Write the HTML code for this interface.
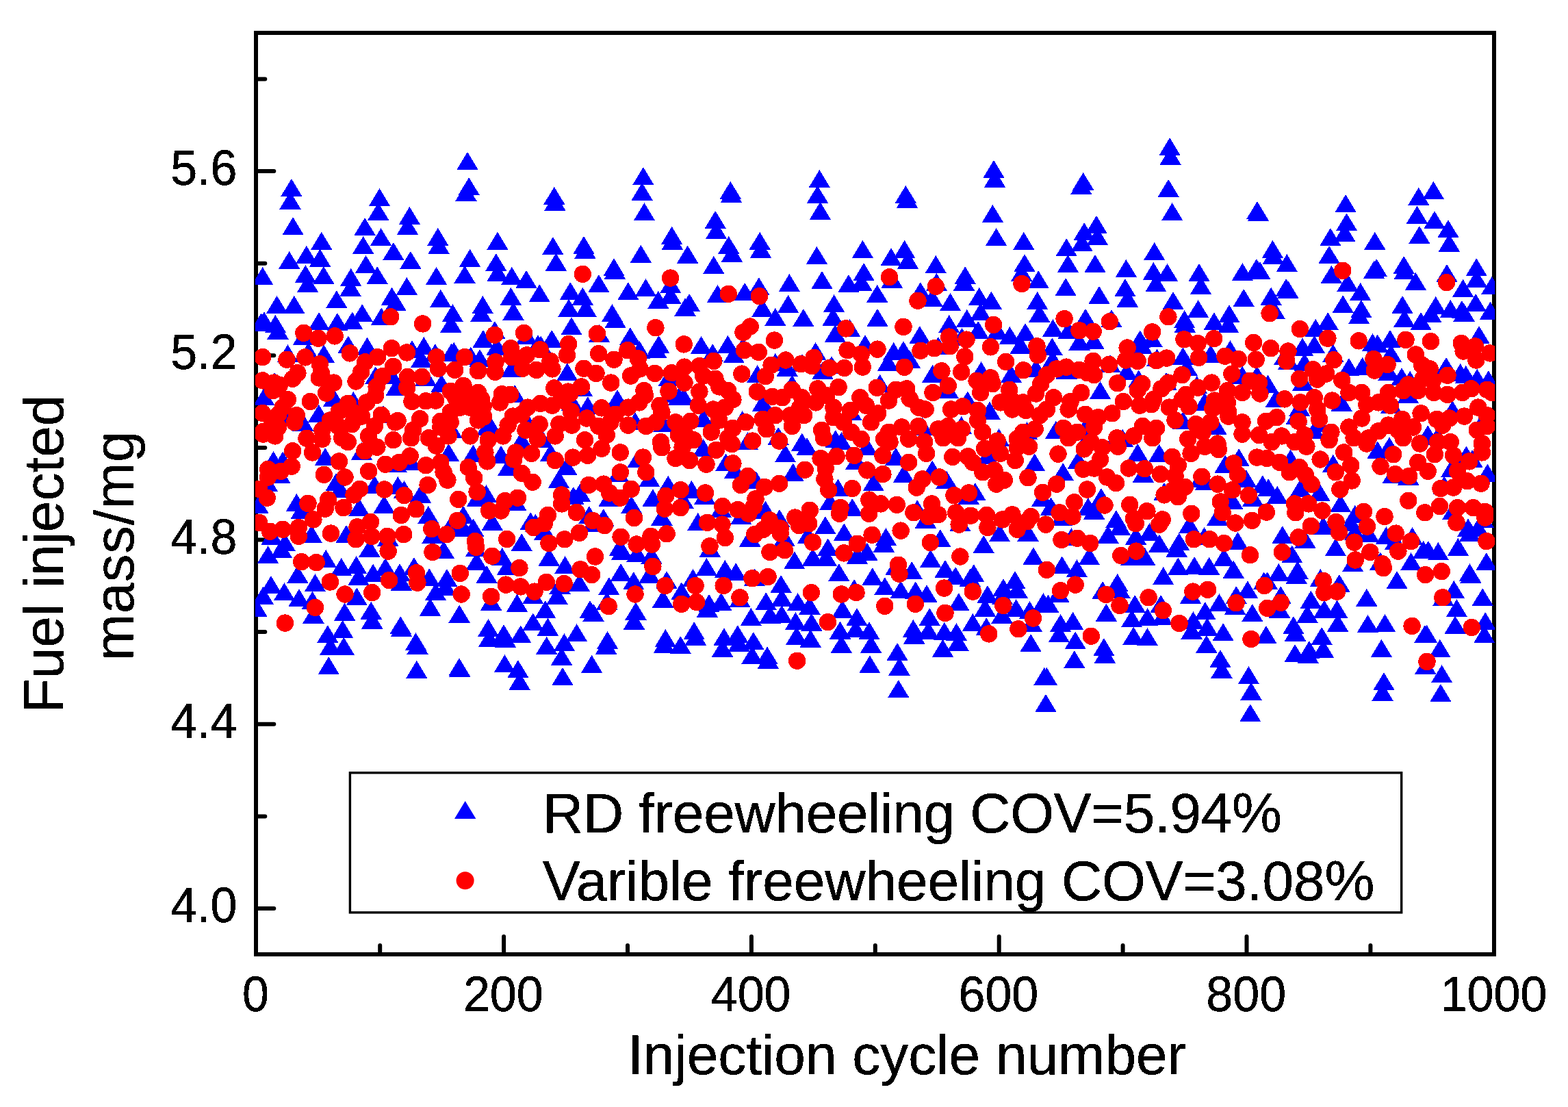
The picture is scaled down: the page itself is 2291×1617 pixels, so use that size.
<!DOCTYPE html>
<html lang="en"><head><meta charset="utf-8"><title>Fuel injected mass vs injection cycle number</title>
<style>html,body{margin:0;padding:0;background:#fff}body{width:2291px;height:1617px;overflow:hidden}svg{display:block}text{font-family:"Liberation Sans",Arial,Helvetica,sans-serif;fill:#000;stroke:#000;stroke-width:0.4px}</style></head><body>
<svg width="2291" height="1617" viewBox="0 0 2291 1617">
<defs><filter id="t" filterUnits="userSpaceOnUse" x="0" y="0" width="2291" height="1617" color-interpolation-filters="sRGB"><feComponentTransfer><feFuncA type="discrete" tableValues="0 1"/></feComponentTransfer></filter></defs>
<rect width="2291" height="1617" fill="#fff"/>
<rect x="374" y="48" width="1809" height="1346" fill="none" stroke="#000" stroke-width="6" shape-rendering="crispEdges"/>
<path d="M555.2 1390.9v-10.0M736.1 1390.9v-23.0M917.0 1390.9v-10.0M1097.9 1390.9v-23.0M1278.8 1390.9v-10.0M1459.7 1390.9v-23.0M1640.6 1390.9v-10.0M1821.5 1390.9v-23.0M2002.4 1390.9v-10.0M377.3 1327.0h23.0M377.3 1192.4h10.0M377.3 1057.8h23.0M377.3 923.1h10.0M377.3 788.5h23.0M377.3 653.9h10.0M377.3 519.3h23.0M377.3 384.7h10.0M377.3 250.0h23.0M377.3 115.4h10.0" fill="none" stroke="#000" stroke-width="6" stroke-linecap="round"/>
<clipPath id="c"><rect x="373.0" y="48.2" width="1811.2" height="1345.7"/></clipPath>
<g clip-path="url(#c)" shape-rendering="crispEdges">
<path fill="#0000ff" d="M425.9 261.0l15.7 26.0h-31.4zM424.0 279.7l15.7 26.0h-31.4zM428.1 317.1l15.7 26.0h-31.4zM469.7 338.8l15.7 26.0h-31.4zM447.8 359.0l15.7 26.0h-31.4zM467.6 363.6l15.7 26.0h-31.4zM422.7 366.9l15.7 26.0h-31.4zM383.7 390.0l15.7 26.0h-31.4zM446.4 387.1l15.7 26.0h-31.4zM472.8 388.8l15.7 26.0h-31.4zM449.6 401.1l15.7 26.0h-31.4zM554.5 275.0l15.7 26.0h-31.4zM552.7 295.9l15.7 26.0h-31.4zM533.1 317.9l15.7 26.0h-31.4zM556.6 333.1l15.7 26.0h-31.4zM530.7 344.9l15.7 26.0h-31.4zM574.9 354.0l15.7 26.0h-31.4zM534.6 373.0l15.7 26.0h-31.4zM551.2 389.1l15.7 26.0h-31.4zM512.7 392.0l15.7 26.0h-31.4zM512.0 406.8l15.7 26.0h-31.4zM598.4 301.9l15.7 26.0h-31.4zM595.5 316.9l15.7 26.0h-31.4zM599.9 366.9l15.7 26.0h-31.4zM594.4 405.0l15.7 26.0h-31.4zM639.8 332.9l15.7 26.0h-31.4zM641.1 344.9l15.7 26.0h-31.4zM637.6 390.0l15.7 26.0h-31.4zM683.0 221.9l15.7 26.0h-31.4zM685.2 259.1l15.7 26.0h-31.4zM681.0 267.8l15.7 26.0h-31.4zM686.6 363.9l15.7 26.0h-31.4zM679.0 387.8l15.7 26.0h-31.4zM491.8 424.1l15.7 26.0h-31.4zM572.5 419.8l15.7 26.0h-31.4zM643.8 423.0l15.7 26.0h-31.4zM809.8 272.8l15.7 26.0h-31.4zM810.9 281.9l15.7 26.0h-31.4zM939.9 244.0l15.7 26.0h-31.4zM938.1 266.8l15.7 26.0h-31.4zM941.4 296.2l15.7 26.0h-31.4zM981.6 330.9l15.7 26.0h-31.4zM982.4 338.7l15.7 26.0h-31.4zM726.9 338.8l15.7 26.0h-31.4zM807.9 346.0l15.7 26.0h-31.4zM853.0 345.0l15.7 26.0h-31.4zM854.9 351.8l15.7 26.0h-31.4zM724.8 370.1l15.7 26.0h-31.4zM727.1 384.9l15.7 26.0h-31.4zM812.4 369.7l15.7 26.0h-31.4zM936.3 357.8l15.7 26.0h-31.4zM897.0 377.2l15.7 26.0h-31.4zM898.3 381.8l15.7 26.0h-31.4zM747.8 390.0l15.7 26.0h-31.4zM769.0 395.0l15.7 26.0h-31.4zM874.9 401.1l15.7 26.0h-31.4zM943.5 407.1l15.7 26.0h-31.4zM788.2 415.2l15.7 26.0h-31.4zM833.3 412.2l15.7 26.0h-31.4zM917.9 412.2l15.7 26.0h-31.4zM851.3 419.8l15.7 26.0h-31.4zM746.4 419.8l15.7 26.0h-31.4zM979.8 402.2l15.7 26.0h-31.4zM961.8 424.9l15.7 26.0h-31.4zM1067.3 264.9l15.7 26.0h-31.4zM1068.4 269.9l15.7 26.0h-31.4zM1197.3 248.0l15.7 26.0h-31.4zM1194.5 270.9l15.7 26.0h-31.4zM1198.4 294.9l15.7 26.0h-31.4zM1045.2 308.0l15.7 26.0h-31.4zM1046.5 323.0l15.7 26.0h-31.4zM1004.6 358.6l15.7 26.0h-31.4zM1064.7 344.9l15.7 26.0h-31.4zM1069.4 356.7l15.7 26.0h-31.4zM1110.2 338.8l15.7 26.0h-31.4zM1111.5 350.9l15.7 26.0h-31.4zM1042.8 374.0l15.7 26.0h-31.4zM1193.4 360.0l15.7 26.0h-31.4zM1260.4 350.9l15.7 26.0h-31.4zM1262.1 384.1l15.7 26.0h-31.4zM1258.9 398.9l15.7 26.0h-31.4zM1239.9 401.1l15.7 26.0h-31.4zM1201.0 396.0l15.7 26.0h-31.4zM1153.3 400.1l15.7 26.0h-31.4zM1108.8 405.1l15.7 26.0h-31.4zM1088.2 413.0l15.7 26.0h-31.4zM1048.5 415.9l15.7 26.0h-31.4zM1281.7 415.9l15.7 26.0h-31.4zM1452.0 233.9l15.7 26.0h-31.4zM1453.5 247.9l15.7 26.0h-31.4zM1582.7 251.9l15.7 26.0h-31.4zM1579.8 258.0l15.7 26.0h-31.4zM1323.3 270.9l15.7 26.0h-31.4zM1325.5 277.9l15.7 26.0h-31.4zM1450.4 299.0l15.7 26.0h-31.4zM1455.6 333.1l15.7 26.0h-31.4zM1495.8 339.0l15.7 26.0h-31.4zM1584.2 325.1l15.7 26.0h-31.4zM1580.9 340.8l15.7 26.0h-31.4zM1558.2 348.2l15.7 26.0h-31.4zM1560.4 372.0l15.7 26.0h-31.4zM1321.6 350.9l15.7 26.0h-31.4zM1302.0 362.2l15.7 26.0h-31.4zM1326.5 366.8l15.7 26.0h-31.4zM1367.3 373.0l15.7 26.0h-31.4zM1497.0 371.1l15.7 26.0h-31.4zM1492.7 384.8l15.7 26.0h-31.4zM1517.2 395.3l15.7 26.0h-31.4zM1410.2 389.1l15.7 26.0h-31.4zM1408.5 398.6l15.7 26.0h-31.4zM1557.1 406.1l15.7 26.0h-31.4zM1368.4 398.9l15.7 26.0h-31.4zM1344.9 412.2l15.7 26.0h-31.4zM1303.3 394.6l15.7 26.0h-31.4zM1709.1 201.1l15.7 26.0h-31.4zM1710.1 214.9l15.7 26.0h-31.4zM1707.2 262.0l15.7 26.0h-31.4zM1712.7 296.2l15.7 26.0h-31.4zM1836.9 294.0l15.7 26.0h-31.4zM1838.5 296.9l15.7 26.0h-31.4zM1602.0 314.9l15.7 26.0h-31.4zM1603.4 331.9l15.7 26.0h-31.4zM1686.7 354.0l15.7 26.0h-31.4zM1859.4 350.9l15.7 26.0h-31.4zM1860.4 359.7l15.7 26.0h-31.4zM1880.3 371.1l15.7 26.0h-31.4zM1600.0 372.0l15.7 26.0h-31.4zM1645.4 379.0l15.7 26.0h-31.4zM1685.3 383.1l15.7 26.0h-31.4zM1705.5 384.9l15.7 26.0h-31.4zM1752.0 384.9l15.7 26.0h-31.4zM1835.9 378.0l15.7 26.0h-31.4zM1840.9 382.1l15.7 26.0h-31.4zM1815.4 384.1l15.7 26.0h-31.4zM1643.9 407.1l15.7 26.0h-31.4zM1688.9 400.4l15.7 26.0h-31.4zM1754.5 404.0l15.7 26.0h-31.4zM1879.1 407.1l15.7 26.0h-31.4zM1882.0 410.0l15.7 26.0h-31.4zM1606.0 417.9l15.7 26.0h-31.4zM1817.2 422.0l15.7 26.0h-31.4zM1857.1 419.8l15.7 26.0h-31.4zM2094.4 264.9l15.7 26.0h-31.4zM2072.8 274.0l15.7 26.0h-31.4zM1966.1 284.1l15.7 26.0h-31.4zM2070.5 300.6l15.7 26.0h-31.4zM2096.0 308.1l15.7 26.0h-31.4zM1967.6 311.4l15.7 26.0h-31.4zM2116.0 321.1l15.7 26.0h-31.4zM1964.8 326.9l15.7 26.0h-31.4zM1943.9 333.1l15.7 26.0h-31.4zM2073.9 330.0l15.7 26.0h-31.4zM2008.8 338.8l15.7 26.0h-31.4zM2117.4 341.7l15.7 26.0h-31.4zM1942.1 358.9l15.7 26.0h-31.4zM2051.2 374.0l15.7 26.0h-31.4zM2052.3 381.9l15.7 26.0h-31.4zM2011.2 378.0l15.7 26.0h-31.4zM2007.6 380.9l15.7 26.0h-31.4zM2157.2 377.2l15.7 26.0h-31.4zM2114.0 385.9l15.7 26.0h-31.4zM1945.4 387.8l15.7 26.0h-31.4zM2068.4 397.9l15.7 26.0h-31.4zM2157.5 393.9l15.7 26.0h-31.4zM2137.6 407.9l15.7 26.0h-31.4zM2179.8 404.0l15.7 26.0h-31.4zM1969.0 399.6l15.7 26.0h-31.4zM1987.7 413.0l15.7 26.0h-31.4zM404.6 432.0l15.7 26.0h-31.4zM429.8 432.0l15.7 26.0h-31.4zM661.4 444.3l15.7 26.0h-31.4zM529.2 444.1l15.7 26.0h-31.4zM557.3 449.3l15.7 26.0h-31.4zM578.0 428.0l15.7 26.0h-31.4zM385.9 455.4l15.7 26.0h-31.4zM381.5 457.5l15.7 26.0h-31.4zM402.4 460.0l15.7 26.0h-31.4zM406.0 469.5l15.7 26.0h-31.4zM466.1 456.1l15.7 26.0h-31.4zM492.9 457.1l15.7 26.0h-31.4zM514.8 455.4l15.7 26.0h-31.4zM658.9 459.7l15.7 26.0h-31.4zM443.6 477.7l15.7 26.0h-31.4zM508.8 490.4l15.7 26.0h-31.4zM536.5 492.8l15.7 26.0h-31.4zM602.0 497.1l15.7 26.0h-31.4zM619.3 492.1l15.7 26.0h-31.4zM635.9 502.2l15.7 26.0h-31.4zM663.3 500.0l15.7 26.0h-31.4zM687.8 506.5l15.7 26.0h-31.4zM420.4 503.2l15.7 26.0h-31.4zM450.7 500.0l15.7 26.0h-31.4zM473.2 503.6l15.7 26.0h-31.4zM615.7 510.8l15.7 26.0h-31.4zM659.7 501.5l15.7 26.0h-31.4zM401.0 544.0l15.7 26.0h-31.4zM548.7 535.3l15.7 26.0h-31.4zM571.8 534.6l15.7 26.0h-31.4zM579.3 551.9l15.7 26.0h-31.4zM645.1 546.9l15.7 26.0h-31.4zM622.2 537.5l15.7 26.0h-31.4zM385.9 566.3l15.7 26.0h-31.4zM487.7 567.8l15.7 26.0h-31.4zM516.3 572.1l15.7 26.0h-31.4zM560.2 592.0l15.7 26.0h-31.4zM465.8 590.8l15.7 26.0h-31.4zM442.6 603.8l15.7 26.0h-31.4zM419.0 596.6l15.7 26.0h-31.4zM659.7 613.9l15.7 26.0h-31.4zM705.3 432.0l15.7 26.0h-31.4zM703.0 443.8l15.7 26.0h-31.4zM750.0 441.7l15.7 26.0h-31.4zM831.1 436.6l15.7 26.0h-31.4zM856.0 436.6l15.7 26.0h-31.4zM979.8 417.9l15.7 26.0h-31.4zM894.4 444.3l15.7 26.0h-31.4zM899.1 453.2l15.7 26.0h-31.4zM835.0 463.3l15.7 26.0h-31.4zM722.9 469.0l15.7 26.0h-31.4zM706.0 482.0l15.7 26.0h-31.4zM806.2 482.0l15.7 26.0h-31.4zM920.8 478.1l15.7 26.0h-31.4zM962.5 489.9l15.7 26.0h-31.4zM958.9 497.1l15.7 26.0h-31.4zM875.6 474.1l15.7 26.0h-31.4zM769.4 477.0l15.7 26.0h-31.4zM786.0 489.2l15.7 26.0h-31.4zM790.3 490.7l15.7 26.0h-31.4zM701.0 510.1l15.7 26.0h-31.4zM726.2 492.8l15.7 26.0h-31.4zM934.4 497.9l15.7 26.0h-31.4zM828.8 530.3l15.7 26.0h-31.4zM747.8 524.5l15.7 26.0h-31.4zM752.1 562.0l15.7 26.0h-31.4zM977.5 537.5l15.7 26.0h-31.4zM902.0 569.2l15.7 26.0h-31.4zM858.8 579.3l15.7 26.0h-31.4zM850.1 552.6l15.7 26.0h-31.4zM835.7 573.5l15.7 26.0h-31.4zM991.4 566.3l15.7 26.0h-31.4zM714.7 605.2l15.7 26.0h-31.4zM773.8 608.1l15.7 26.0h-31.4zM928.0 602.3l15.7 26.0h-31.4zM969.8 605.2l15.7 26.0h-31.4zM762.2 629.7l15.7 26.0h-31.4zM792.5 628.3l15.7 26.0h-31.4zM711.8 609.6l15.7 26.0h-31.4zM1007.2 429.0l15.7 26.0h-31.4zM1151.6 430.9l15.7 26.0h-31.4zM1218.6 430.1l15.7 26.0h-31.4zM1114.0 436.6l15.7 26.0h-31.4zM1001.0 435.6l15.7 26.0h-31.4zM1132.8 450.0l15.7 26.0h-31.4zM1173.9 451.0l15.7 26.0h-31.4zM1217.2 449.6l15.7 26.0h-31.4zM1282.0 451.0l15.7 26.0h-31.4zM1220.3 474.1l15.7 26.0h-31.4zM1241.7 466.2l15.7 26.0h-31.4zM1024.5 490.9l15.7 26.0h-31.4zM1041.3 502.2l15.7 26.0h-31.4zM1063.4 489.9l15.7 26.0h-31.4zM1264.0 489.2l15.7 26.0h-31.4zM1191.6 500.0l15.7 26.0h-31.4zM1072.3 504.4l15.7 26.0h-31.4zM1085.3 492.8l15.7 26.0h-31.4zM1106.6 533.2l15.7 26.0h-31.4zM1132.8 515.9l15.7 26.0h-31.4zM1171.8 517.3l15.7 26.0h-31.4zM1215.0 520.2l15.7 26.0h-31.4zM1150.1 523.8l15.7 26.0h-31.4zM1157.3 547.6l15.7 26.0h-31.4zM1202.0 528.1l15.7 26.0h-31.4zM1285.6 546.9l15.7 26.0h-31.4zM998.8 566.3l15.7 26.0h-31.4zM984.4 562.0l15.7 26.0h-31.4zM1114.4 575.0l15.7 26.0h-31.4zM1027.6 598.0l15.7 26.0h-31.4zM1084.6 600.2l15.7 26.0h-31.4zM1137.2 624.0l15.7 26.0h-31.4zM1171.8 632.6l15.7 26.0h-31.4zM1243.8 587.9l15.7 26.0h-31.4zM1220.8 628.3l15.7 26.0h-31.4zM1229.4 631.2l15.7 26.0h-31.4zM1092.5 631.2l15.7 26.0h-31.4zM1027.6 641.3l15.7 26.0h-31.4zM1430.7 420.0l15.7 26.0h-31.4zM1448.3 425.8l15.7 26.0h-31.4zM1388.5 428.0l15.7 26.0h-31.4zM1515.7 426.1l15.7 26.0h-31.4zM1362.2 422.2l15.7 26.0h-31.4zM1412.7 452.0l15.7 26.0h-31.4zM1432.8 442.4l15.7 26.0h-31.4zM1386.7 460.1l15.7 26.0h-31.4zM1429.2 469.0l15.7 26.0h-31.4zM1518.7 444.8l15.7 26.0h-31.4zM1586.0 451.0l15.7 26.0h-31.4zM1538.5 466.2l15.7 26.0h-31.4zM1498.1 472.2l15.7 26.0h-31.4zM1475.4 477.0l15.7 26.0h-31.4zM1343.9 476.2l15.7 26.0h-31.4zM1405.5 479.1l15.7 26.0h-31.4zM1457.3 469.8l15.7 26.0h-31.4zM1561.1 469.0l15.7 26.0h-31.4zM1537.3 493.3l15.7 26.0h-31.4zM1577.0 485.6l15.7 26.0h-31.4zM1491.2 490.7l15.7 26.0h-31.4zM1305.7 500.0l15.7 26.0h-31.4zM1320.0 498.2l15.7 26.0h-31.4zM1370.9 492.1l15.7 26.0h-31.4zM1297.4 515.9l15.7 26.0h-31.4zM1329.2 511.6l15.7 26.0h-31.4zM1433.6 528.1l15.7 26.0h-31.4zM1362.8 532.7l15.7 26.0h-31.4zM1477.5 533.2l15.7 26.0h-31.4zM1538.1 511.6l15.7 26.0h-31.4zM1513.6 524.5l15.7 26.0h-31.4zM1558.2 528.1l15.7 26.0h-31.4zM1413.8 571.4l15.7 26.0h-31.4zM1385.3 556.2l15.7 26.0h-31.4zM1446.0 586.5l15.7 26.0h-31.4zM1404.7 608.1l15.7 26.0h-31.4zM1459.5 626.1l15.7 26.0h-31.4zM1500.6 616.0l15.7 26.0h-31.4zM1542.9 614.6l15.7 26.0h-31.4zM1584.2 613.9l15.7 26.0h-31.4zM1347.8 609.6l15.7 26.0h-31.4zM1647.4 422.5l15.7 26.0h-31.4zM1714.1 426.2l15.7 26.0h-31.4zM1750.6 438.1l15.7 26.0h-31.4zM1624.0 452.2l15.7 26.0h-31.4zM1730.7 453.2l15.7 26.0h-31.4zM1731.4 459.7l15.7 26.0h-31.4zM1773.9 456.4l15.7 26.0h-31.4zM1796.0 445.3l15.7 26.0h-31.4zM1794.8 460.4l15.7 26.0h-31.4zM1862.0 439.5l15.7 26.0h-31.4zM1665.8 482.4l15.7 26.0h-31.4zM1683.3 481.3l15.7 26.0h-31.4zM1668.0 490.7l15.7 26.0h-31.4zM1690.6 509.4l15.7 26.0h-31.4zM1797.4 497.1l15.7 26.0h-31.4zM1728.5 507.2l15.7 26.0h-31.4zM1768.9 503.6l15.7 26.0h-31.4zM1734.4 523.1l15.7 26.0h-31.4zM1598.2 484.2l15.7 26.0h-31.4zM1621.9 518.0l15.7 26.0h-31.4zM1646.4 528.8l15.7 26.0h-31.4zM1663.7 540.4l15.7 26.0h-31.4zM1704.0 544.0l15.7 26.0h-31.4zM1607.5 557.0l15.7 26.0h-31.4zM1836.6 534.6l15.7 26.0h-31.4zM1852.5 547.6l15.7 26.0h-31.4zM1815.0 534.6l15.7 26.0h-31.4zM1877.0 506.5l15.7 26.0h-31.4zM1882.7 513.7l15.7 26.0h-31.4zM1748.7 549.0l15.7 26.0h-31.4zM1864.6 568.5l15.7 26.0h-31.4zM1760.2 573.5l15.7 26.0h-31.4zM1728.5 600.9l15.7 26.0h-31.4zM1776.9 608.8l15.7 26.0h-31.4zM1894.3 593.7l15.7 26.0h-31.4zM1591.6 622.5l15.7 26.0h-31.4zM1629.8 626.8l15.7 26.0h-31.4zM1640.2 626.8l15.7 26.0h-31.4zM1962.2 431.1l15.7 26.0h-31.4zM1988.9 438.1l15.7 26.0h-31.4zM1985.6 447.4l15.7 26.0h-31.4zM2049.1 432.0l15.7 26.0h-31.4zM2051.9 451.7l15.7 26.0h-31.4zM2097.7 433.0l15.7 26.0h-31.4zM2076.1 456.1l15.7 26.0h-31.4zM2119.3 438.1l15.7 26.0h-31.4zM2135.9 439.1l15.7 26.0h-31.4zM2156.1 429.0l15.7 26.0h-31.4zM2139.2 443.5l15.7 26.0h-31.4zM2177.5 440.7l15.7 26.0h-31.4zM2090.6 444.5l15.7 26.0h-31.4zM1940.2 456.1l15.7 26.0h-31.4zM1922.2 465.9l15.7 26.0h-31.4zM2161.1 476.2l15.7 26.0h-31.4zM2031.0 482.0l15.7 26.0h-31.4zM2005.5 487.1l15.7 26.0h-31.4zM2012.7 488.5l15.7 26.0h-31.4zM1903.1 493.5l15.7 26.0h-31.4zM1920.4 489.9l15.7 26.0h-31.4zM1947.8 502.9l15.7 26.0h-31.4zM2032.3 502.9l15.7 26.0h-31.4zM1970.9 523.1l15.7 26.0h-31.4zM1990.6 521.9l15.7 26.0h-31.4zM1906.0 515.9l15.7 26.0h-31.4zM2113.1 521.9l15.7 26.0h-31.4zM2133.7 531.0l15.7 26.0h-31.4zM2141.7 533.9l15.7 26.0h-31.4zM2158.2 538.9l15.7 26.0h-31.4zM2174.8 541.1l15.7 26.0h-31.4zM2048.0 537.1l15.7 26.0h-31.4zM2029.1 529.6l15.7 26.0h-31.4zM2060.2 541.8l15.7 26.0h-31.4zM1903.9 544.7l15.7 26.0h-31.4zM1960.2 575.0l15.7 26.0h-31.4zM1898.7 582.2l15.7 26.0h-31.4zM2057.3 562.7l15.7 26.0h-31.4zM2122.2 585.1l15.7 26.0h-31.4zM2032.8 577.8l15.7 26.0h-31.4zM2162.5 608.1l15.7 26.0h-31.4zM1927.6 605.2l15.7 26.0h-31.4zM1920.4 615.3l15.7 26.0h-31.4zM2086.2 621.1l15.7 26.0h-31.4zM2100.6 624.0l15.7 26.0h-31.4zM2030.0 638.4l15.7 26.0h-31.4zM399.5 659.1l15.7 26.0h-31.4zM413.2 659.5l15.7 26.0h-31.4zM475.2 654.2l15.7 26.0h-31.4zM528.5 645.8l15.7 26.0h-31.4zM655.5 648.0l15.7 26.0h-31.4zM691.4 649.4l15.7 26.0h-31.4zM600.6 660.9l15.7 26.0h-31.4zM579.0 663.8l15.7 26.0h-31.4zM409.1 680.4l15.7 26.0h-31.4zM390.3 691.9l15.7 26.0h-31.4zM491.1 691.2l15.7 26.0h-31.4zM496.8 701.3l15.7 26.0h-31.4zM547.3 694.8l15.7 26.0h-31.4zM581.4 696.0l15.7 26.0h-31.4zM590.5 702.0l15.7 26.0h-31.4zM614.4 708.5l15.7 26.0h-31.4zM433.4 721.0l15.7 26.0h-31.4zM440.5 731.6l15.7 26.0h-31.4zM377.3 724.4l15.7 26.0h-31.4zM524.9 728.0l15.7 26.0h-31.4zM561.2 723.6l15.7 26.0h-31.4zM625.8 739.0l15.7 26.0h-31.4zM677.0 738.8l15.7 26.0h-31.4zM656.8 756.8l15.7 26.0h-31.4zM455.2 766.9l15.7 26.0h-31.4zM506.0 766.9l15.7 26.0h-31.4zM566.9 771.9l15.7 26.0h-31.4zM632.1 767.6l15.7 26.0h-31.4zM677.0 757.5l15.7 26.0h-31.4zM397.2 769.7l15.7 26.0h-31.4zM416.3 779.1l15.7 26.0h-31.4zM411.2 788.5l15.7 26.0h-31.4zM391.6 797.1l15.7 26.0h-31.4zM539.8 787.8l15.7 26.0h-31.4zM648.3 789.9l15.7 26.0h-31.4zM695.7 787.0l15.7 26.0h-31.4zM476.2 802.9l15.7 26.0h-31.4zM498.7 815.1l15.7 26.0h-31.4zM520.6 812.3l15.7 26.0h-31.4zM545.1 823.8l15.7 26.0h-31.4zM563.1 815.1l15.7 26.0h-31.4zM584.0 823.1l15.7 26.0h-31.4zM604.9 814.0l15.7 26.0h-31.4zM627.2 830.3l15.7 26.0h-31.4zM652.9 831.0l15.7 26.0h-31.4zM696.4 806.5l15.7 26.0h-31.4zM434.9 825.9l15.7 26.0h-31.4zM524.1 828.8l15.7 26.0h-31.4zM395.9 841.1l15.7 26.0h-31.4zM415.4 851.2l15.7 26.0h-31.4zM460.4 838.2l15.7 26.0h-31.4zM437.0 860.1l15.7 26.0h-31.4zM521.3 858.4l15.7 26.0h-31.4zM586.2 836.8l15.7 26.0h-31.4zM636.6 851.2l15.7 26.0h-31.4zM384.4 856.9l15.7 26.0h-31.4zM732.0 650.9l15.7 26.0h-31.4zM804.6 648.0l15.7 26.0h-31.4zM742.6 668.9l15.7 26.0h-31.4zM827.8 668.1l15.7 26.0h-31.4zM816.4 686.9l15.7 26.0h-31.4zM932.3 656.6l15.7 26.0h-31.4zM976.2 694.8l15.7 26.0h-31.4zM948.9 685.4l15.7 26.0h-31.4zM903.5 678.2l15.7 26.0h-31.4zM953.9 714.3l15.7 26.0h-31.4zM710.4 708.1l15.7 26.0h-31.4zM837.9 710.9l15.7 26.0h-31.4zM847.3 706.6l15.7 26.0h-31.4zM697.2 714.3l15.7 26.0h-31.4zM753.7 719.7l15.7 26.0h-31.4zM890.3 713.5l15.7 26.0h-31.4zM922.6 724.4l15.7 26.0h-31.4zM691.6 757.5l15.7 26.0h-31.4zM719.3 748.8l15.7 26.0h-31.4zM775.2 748.1l15.7 26.0h-31.4zM782.4 751.0l15.7 26.0h-31.4zM860.9 739.0l15.7 26.0h-31.4zM881.8 743.1l15.7 26.0h-31.4zM966.9 741.6l15.7 26.0h-31.4zM796.0 762.5l15.7 26.0h-31.4zM866.0 751.0l15.7 26.0h-31.4zM762.2 779.1l15.7 26.0h-31.4zM733.7 800.0l15.7 26.0h-31.4zM711.1 825.9l15.7 26.0h-31.4zM741.2 814.4l15.7 26.0h-31.4zM802.2 800.7l15.7 26.0h-31.4zM825.6 812.3l15.7 26.0h-31.4zM905.6 785.6l15.7 26.0h-31.4zM908.8 791.8l15.7 26.0h-31.4zM930.8 795.0l15.7 26.0h-31.4zM951.9 797.8l15.7 26.0h-31.4zM907.1 823.1l15.7 26.0h-31.4zM925.8 835.3l15.7 26.0h-31.4zM974.1 834.2l15.7 26.0h-31.4zM948.9 825.9l15.7 26.0h-31.4zM889.8 843.2l15.7 26.0h-31.4zM846.5 838.2l15.7 26.0h-31.4zM995.7 850.4l15.7 26.0h-31.4zM814.1 856.9l15.7 26.0h-31.4zM1179.0 639.3l15.7 26.0h-31.4zM1147.5 649.4l15.7 26.0h-31.4zM1158.8 676.5l15.7 26.0h-31.4zM1060.6 662.4l15.7 26.0h-31.4zM1073.6 673.2l15.7 26.0h-31.4zM1104.7 688.3l15.7 26.0h-31.4zM1010.4 702.0l15.7 26.0h-31.4zM1029.8 710.7l15.7 26.0h-31.4zM998.2 717.1l15.7 26.0h-31.4zM1224.4 699.4l15.7 26.0h-31.4zM1276.2 691.2l15.7 26.0h-31.4zM1251.0 659.5l15.7 26.0h-31.4zM1266.9 639.3l15.7 26.0h-31.4zM1212.7 719.3l15.7 26.0h-31.4zM1245.3 728.2l15.7 26.0h-31.4zM1118.4 731.6l15.7 26.0h-31.4zM1138.9 744.1l15.7 26.0h-31.4zM1019.7 749.1l15.7 26.0h-31.4zM1053.6 730.1l15.7 26.0h-31.4zM1082.8 740.2l15.7 26.0h-31.4zM1205.9 754.2l15.7 26.0h-31.4zM1233.3 764.3l15.7 26.0h-31.4zM1294.5 771.2l15.7 26.0h-31.4zM1095.7 772.6l15.7 26.0h-31.4zM1180.3 768.3l15.7 26.0h-31.4zM1146.0 771.9l15.7 26.0h-31.4zM1209.7 786.3l15.7 26.0h-31.4zM1037.4 787.8l15.7 26.0h-31.4zM1266.9 792.8l15.7 26.0h-31.4zM1291.4 780.6l15.7 26.0h-31.4zM1160.9 805.3l15.7 26.0h-31.4zM1187.6 800.7l15.7 26.0h-31.4zM1207.2 800.7l15.7 26.0h-31.4zM1252.5 797.8l15.7 26.0h-31.4zM1032.3 815.1l15.7 26.0h-31.4zM1059.4 818.0l15.7 26.0h-31.4zM1075.2 822.1l15.7 26.0h-31.4zM1012.5 831.0l15.7 26.0h-31.4zM1225.8 823.1l15.7 26.0h-31.4zM1274.8 829.3l15.7 26.0h-31.4zM1141.1 839.9l15.7 26.0h-31.4zM1102.3 830.3l15.7 26.0h-31.4zM1248.1 846.1l15.7 26.0h-31.4zM1292.8 843.2l15.7 26.0h-31.4zM1081.0 861.3l15.7 26.0h-31.4zM1308.9 653.7l15.7 26.0h-31.4zM1511.7 662.4l15.7 26.0h-31.4zM1553.2 676.1l15.7 26.0h-31.4zM1575.4 658.8l15.7 26.0h-31.4zM1442.9 652.3l15.7 26.0h-31.4zM1362.2 672.5l15.7 26.0h-31.4zM1320.4 679.0l15.7 26.0h-31.4zM1383.1 687.6l15.7 26.0h-31.4zM1424.9 705.2l15.7 26.0h-31.4zM1415.3 710.7l15.7 26.0h-31.4zM1340.2 730.1l15.7 26.0h-31.4zM1522.8 713.5l15.7 26.0h-31.4zM1535.7 726.5l15.7 26.0h-31.4zM1589.9 727.2l15.7 26.0h-31.4zM1598.6 732.7l15.7 26.0h-31.4zM1352.4 745.7l15.7 26.0h-31.4zM1402.9 750.3l15.7 26.0h-31.4zM1551.0 741.6l15.7 26.0h-31.4zM1373.8 773.1l15.7 26.0h-31.4zM1460.5 765.4l15.7 26.0h-31.4zM1502.0 764.7l15.7 26.0h-31.4zM1565.4 771.2l15.7 26.0h-31.4zM1437.2 782.0l15.7 26.0h-31.4zM1509.9 799.3l15.7 26.0h-31.4zM1359.6 802.9l15.7 26.0h-31.4zM1591.4 799.3l15.7 26.0h-31.4zM1551.7 812.3l15.7 26.0h-31.4zM1573.4 817.3l15.7 26.0h-31.4zM1381.0 818.0l15.7 26.0h-31.4zM1332.3 820.2l15.7 26.0h-31.4zM1396.1 828.1l15.7 26.0h-31.4zM1422.8 824.2l15.7 26.0h-31.4zM1308.8 814.4l15.7 26.0h-31.4zM1483.0 834.3l15.7 26.0h-31.4zM1466.0 845.1l15.7 26.0h-31.4zM1316.1 848.3l15.7 26.0h-31.4zM1337.7 849.3l15.7 26.0h-31.4zM1354.0 854.1l15.7 26.0h-31.4zM1442.9 855.1l15.7 26.0h-31.4zM1417.3 831.0l15.7 26.0h-31.4zM1662.2 648.0l15.7 26.0h-31.4zM1693.8 648.7l15.7 26.0h-31.4zM1810.2 655.2l15.7 26.0h-31.4zM1790.3 664.5l15.7 26.0h-31.4zM1885.6 656.6l15.7 26.0h-31.4zM1820.8 686.2l15.7 26.0h-31.4zM1844.8 694.1l15.7 26.0h-31.4zM1853.2 699.1l15.7 26.0h-31.4zM1866.2 709.9l15.7 26.0h-31.4zM1900.0 699.9l15.7 26.0h-31.4zM1670.4 678.7l15.7 26.0h-31.4zM1753.6 686.2l15.7 26.0h-31.4zM1761.7 689.8l15.7 26.0h-31.4zM1608.9 713.1l15.7 26.0h-31.4zM1701.0 704.9l15.7 26.0h-31.4zM1800.7 717.9l15.7 26.0h-31.4zM1830.8 713.5l15.7 26.0h-31.4zM1630.8 745.2l15.7 26.0h-31.4zM1636.4 756.1l15.7 26.0h-31.4zM1778.8 741.6l15.7 26.0h-31.4zM1737.6 753.2l15.7 26.0h-31.4zM1759.5 770.0l15.7 26.0h-31.4zM1873.8 768.3l15.7 26.0h-31.4zM1619.0 767.6l15.7 26.0h-31.4zM1659.6 769.7l15.7 26.0h-31.4zM1679.5 764.0l15.7 26.0h-31.4zM1693.9 780.6l15.7 26.0h-31.4zM1722.8 778.4l15.7 26.0h-31.4zM1719.2 787.8l15.7 26.0h-31.4zM1808.5 777.0l15.7 26.0h-31.4zM1672.5 799.6l15.7 26.0h-31.4zM1652.7 799.6l15.7 26.0h-31.4zM1788.3 800.7l15.7 26.0h-31.4zM1887.8 796.4l15.7 26.0h-31.4zM1721.3 814.4l15.7 26.0h-31.4zM1745.1 813.0l15.7 26.0h-31.4zM1766.7 813.7l15.7 26.0h-31.4zM1802.3 818.7l15.7 26.0h-31.4zM1699.7 828.1l15.7 26.0h-31.4zM1868.3 823.1l15.7 26.0h-31.4zM1894.3 826.7l15.7 26.0h-31.4zM1632.7 837.9l15.7 26.0h-31.4zM1846.7 835.3l15.7 26.0h-31.4zM1851.7 835.3l15.7 26.0h-31.4zM1611.1 849.0l15.7 26.0h-31.4zM1822.9 848.3l15.7 26.0h-31.4zM1806.3 856.2l15.7 26.0h-31.4zM1871.2 856.2l15.7 26.0h-31.4zM2012.7 644.4l15.7 26.0h-31.4zM1947.8 663.8l15.7 26.0h-31.4zM2142.4 651.6l15.7 26.0h-31.4zM2173.4 677.5l15.7 26.0h-31.4zM2110.2 695.5l15.7 26.0h-31.4zM2035.4 679.7l15.7 26.0h-31.4zM2057.8 682.6l15.7 26.0h-31.4zM2151.2 657.3l15.7 26.0h-31.4zM2120.8 671.0l15.7 26.0h-31.4zM1927.8 705.6l15.7 26.0h-31.4zM1958.6 722.2l15.7 26.0h-31.4zM1979.8 738.0l15.7 26.0h-31.4zM1973.8 750.3l15.7 26.0h-31.4zM2122.8 733.0l15.7 26.0h-31.4zM2145.5 758.2l15.7 26.0h-31.4zM2159.7 757.5l15.7 26.0h-31.4zM2147.4 765.4l15.7 26.0h-31.4zM2145.1 757.5l15.7 26.0h-31.4zM2167.6 745.2l15.7 26.0h-31.4zM1933.4 754.6l15.7 26.0h-31.4zM1979.5 763.3l15.7 26.0h-31.4zM1999.7 766.1l15.7 26.0h-31.4zM2025.4 769.3l15.7 26.0h-31.4zM2063.5 770.0l15.7 26.0h-31.4zM2038.5 777.0l15.7 26.0h-31.4zM1906.9 774.8l15.7 26.0h-31.4zM1951.4 786.3l15.7 26.0h-31.4zM2130.4 786.0l15.7 26.0h-31.4zM2079.7 789.9l15.7 26.0h-31.4zM2086.9 789.9l15.7 26.0h-31.4zM2101.3 792.1l15.7 26.0h-31.4zM2061.7 807.2l15.7 26.0h-31.4zM2171.9 807.2l15.7 26.0h-31.4zM1976.6 809.4l15.7 26.0h-31.4zM2016.9 806.5l15.7 26.0h-31.4zM1895.9 819.5l15.7 26.0h-31.4zM2147.4 823.1l15.7 26.0h-31.4zM1929.4 831.0l15.7 26.0h-31.4zM2041.1 834.2l15.7 26.0h-31.4zM2148.9 825.9l15.7 26.0h-31.4zM1956.9 838.9l15.7 26.0h-31.4zM2124.4 848.0l15.7 26.0h-31.4zM1996.8 859.8l15.7 26.0h-31.4zM2108.8 859.1l15.7 26.0h-31.4zM2166.2 859.1l15.7 26.0h-31.4zM1915.4 862.7l15.7 26.0h-31.4zM375.0 874.9l15.7 26.0h-31.4zM456.5 863.6l15.7 26.0h-31.4zM457.9 884.5l15.7 26.0h-31.4zM503.6 880.7l15.7 26.0h-31.4zM542.2 878.8l15.7 26.0h-31.4zM543.7 892.5l15.7 26.0h-31.4zM500.6 905.9l15.7 26.0h-31.4zM478.8 913.1l15.7 26.0h-31.4zM482.7 930.7l15.7 26.0h-31.4zM502.3 930.7l15.7 26.0h-31.4zM480.2 959.2l15.7 26.0h-31.4zM585.2 900.1l15.7 26.0h-31.4zM586.5 903.7l15.7 26.0h-31.4zM607.5 924.2l15.7 26.0h-31.4zM610.1 929.7l15.7 26.0h-31.4zM608.8 965.0l15.7 26.0h-31.4zM670.9 961.4l15.7 26.0h-31.4zM671.9 962.8l15.7 26.0h-31.4zM628.5 873.7l15.7 26.0h-31.4zM651.0 843.5l15.7 26.0h-31.4zM671.2 883.5l15.7 26.0h-31.4zM717.6 865.8l15.7 26.0h-31.4zM755.5 867.7l15.7 26.0h-31.4zM778.8 856.4l15.7 26.0h-31.4zM818.1 841.7l15.7 26.0h-31.4zM796.8 877.3l15.7 26.0h-31.4zM778.8 895.4l15.7 26.0h-31.4zM800.4 902.6l15.7 26.0h-31.4zM713.5 904.0l15.7 26.0h-31.4zM714.7 918.7l15.7 26.0h-31.4zM736.0 912.2l15.7 26.0h-31.4zM738.6 919.9l15.7 26.0h-31.4zM760.8 913.4l15.7 26.0h-31.4zM842.6 911.2l15.7 26.0h-31.4zM824.5 925.2l15.7 26.0h-31.4zM798.7 929.9l15.7 26.0h-31.4zM820.6 945.8l15.7 26.0h-31.4zM862.0 877.3l15.7 26.0h-31.4zM867.0 881.7l15.7 26.0h-31.4zM886.7 864.8l15.7 26.0h-31.4zM929.0 879.5l15.7 26.0h-31.4zM926.5 893.6l15.7 26.0h-31.4zM968.6 861.5l15.7 26.0h-31.4zM887.6 922.0l15.7 26.0h-31.4zM885.6 929.7l15.7 26.0h-31.4zM972.3 919.1l15.7 26.0h-31.4zM970.5 927.8l15.7 26.0h-31.4zM994.3 929.2l15.7 26.0h-31.4zM864.6 956.9l15.7 26.0h-31.4zM737.4 956.2l15.7 26.0h-31.4zM756.9 964.2l15.7 26.0h-31.4zM759.1 981.8l15.7 26.0h-31.4zM822.0 975.0l15.7 26.0h-31.4zM1036.0 868.0l15.7 26.0h-31.4zM1033.4 875.6l15.7 26.0h-31.4zM1053.7 865.8l15.7 26.0h-31.4zM1119.2 865.1l15.7 26.0h-31.4zM1142.2 860.0l15.7 26.0h-31.4zM1165.7 866.2l15.7 26.0h-31.4zM1182.9 871.6l15.7 26.0h-31.4zM1097.3 888.1l15.7 26.0h-31.4zM1124.9 884.5l15.7 26.0h-31.4zM1142.2 883.8l15.7 26.0h-31.4zM1162.4 894.2l15.7 26.0h-31.4zM1185.7 895.6l15.7 26.0h-31.4zM1163.8 915.5l15.7 26.0h-31.4zM1184.2 919.6l15.7 26.0h-31.4zM1230.8 876.6l15.7 26.0h-31.4zM1252.0 888.1l15.7 26.0h-31.4zM1227.5 907.6l15.7 26.0h-31.4zM1250.3 905.4l15.7 26.0h-31.4zM1270.0 908.3l15.7 26.0h-31.4zM1229.4 927.8l15.7 26.0h-31.4zM1272.6 927.8l15.7 26.0h-31.4zM1270.9 957.3l15.7 26.0h-31.4zM1014.2 908.3l15.7 26.0h-31.4zM1016.4 916.5l15.7 26.0h-31.4zM1057.9 917.3l15.7 26.0h-31.4zM1055.6 933.5l15.7 26.0h-31.4zM1077.8 913.1l15.7 26.0h-31.4zM1079.5 925.6l15.7 26.0h-31.4zM1100.9 923.2l15.7 26.0h-31.4zM1099.1 943.6l15.7 26.0h-31.4zM1121.0 944.4l15.7 26.0h-31.4zM1122.3 950.8l15.7 26.0h-31.4zM1464.6 857.2l15.7 26.0h-31.4zM1486.2 847.8l15.7 26.0h-31.4zM1400.9 866.2l15.7 26.0h-31.4zM1484.7 875.2l15.7 26.0h-31.4zM1504.5 878.1l15.7 26.0h-31.4zM1524.4 866.2l15.7 26.0h-31.4zM1531.6 868.7l15.7 26.0h-31.4zM1546.7 853.6l15.7 26.0h-31.4zM1439.3 874.5l15.7 26.0h-31.4zM1464.1 884.5l15.7 26.0h-31.4zM1358.2 888.1l15.7 26.0h-31.4zM1421.3 896.1l15.7 26.0h-31.4zM1441.2 902.3l15.7 26.0h-31.4zM1334.4 905.0l15.7 26.0h-31.4zM1335.7 914.5l15.7 26.0h-31.4zM1356.5 907.6l15.7 26.0h-31.4zM1379.8 909.0l15.7 26.0h-31.4zM1397.5 910.2l15.7 26.0h-31.4zM1400.0 924.5l15.7 26.0h-31.4zM1377.5 933.8l15.7 26.0h-31.4zM1507.2 896.5l15.7 26.0h-31.4zM1506.1 926.0l15.7 26.0h-31.4zM1549.6 897.1l15.7 26.0h-31.4zM1547.3 912.4l15.7 26.0h-31.4zM1567.6 893.9l15.7 26.0h-31.4zM1571.2 922.4l15.7 26.0h-31.4zM1569.8 950.1l15.7 26.0h-31.4zM1525.8 974.9l15.7 26.0h-31.4zM1529.4 974.9l15.7 26.0h-31.4zM1528.0 1014.0l15.7 26.0h-31.4zM1311.1 939.0l15.7 26.0h-31.4zM1314.0 960.5l15.7 26.0h-31.4zM1312.8 993.1l15.7 26.0h-31.4zM1636.0 847.8l15.7 26.0h-31.4zM1616.4 881.7l15.7 26.0h-31.4zM1658.2 869.0l15.7 26.0h-31.4zM1653.7 890.3l15.7 26.0h-31.4zM1696.1 869.0l15.7 26.0h-31.4zM1676.6 888.1l15.7 26.0h-31.4zM1698.3 887.4l15.7 26.0h-31.4zM1739.5 855.7l15.7 26.0h-31.4zM1781.4 867.2l15.7 26.0h-31.4zM1760.9 879.2l15.7 26.0h-31.4zM1743.4 893.2l15.7 26.0h-31.4zM1741.1 907.6l15.7 26.0h-31.4zM1763.8 902.6l15.7 26.0h-31.4zM1787.2 910.2l15.7 26.0h-31.4zM1762.8 927.8l15.7 26.0h-31.4zM1783.0 949.1l15.7 26.0h-31.4zM1785.0 964.5l15.7 26.0h-31.4zM1804.6 871.6l15.7 26.0h-31.4zM1829.8 882.1l15.7 26.0h-31.4zM1869.5 876.6l15.7 26.0h-31.4zM1849.9 914.1l15.7 26.0h-31.4zM1889.9 900.1l15.7 26.0h-31.4zM1892.5 910.5l15.7 26.0h-31.4zM1892.1 941.2l15.7 26.0h-31.4zM1656.2 915.5l15.7 26.0h-31.4zM1676.4 917.3l15.7 26.0h-31.4zM1612.9 932.1l15.7 26.0h-31.4zM1614.4 942.6l15.7 26.0h-31.4zM1824.4 973.2l15.7 26.0h-31.4zM1828.0 996.7l15.7 26.0h-31.4zM1826.8 1028.4l15.7 26.0h-31.4zM1953.6 876.6l15.7 26.0h-31.4zM1910.1 883.8l15.7 26.0h-31.4zM1934.9 876.6l15.7 26.0h-31.4zM1954.6 896.8l15.7 26.0h-31.4zM2128.4 875.2l15.7 26.0h-31.4zM2170.2 894.2l15.7 26.0h-31.4zM2126.2 899.7l15.7 26.0h-31.4zM2168.7 913.4l15.7 26.0h-31.4zM1998.5 897.9l15.7 26.0h-31.4zM2023.5 897.1l15.7 26.0h-31.4zM2081.8 913.1l15.7 26.0h-31.4zM2084.7 913.1l15.7 26.0h-31.4zM2103.8 934.0l15.7 26.0h-31.4zM2018.4 934.0l15.7 26.0h-31.4zM1931.2 916.0l15.7 26.0h-31.4zM1933.4 934.6l15.7 26.0h-31.4zM1912.9 936.0l15.7 26.0h-31.4zM1911.1 942.9l15.7 26.0h-31.4zM2082.7 958.8l15.7 26.0h-31.4zM2106.6 971.3l15.7 26.0h-31.4zM2104.9 999.1l15.7 26.0h-31.4zM2022.0 982.1l15.7 26.0h-31.4zM2020.0 997.7l15.7 26.0h-31.4z"/>
<path fill="none" stroke="#ff0000" stroke-width="25.4" stroke-linecap="round" d="M851.3 400.4h0M979.6 406.1h0M1299.5 404.7h0M1367.3 418.4h0M1492.9 414.5h0M1961.8 395.3h0M2113.6 412.6h0M570.7 462.8h0M617.6 472.9h0M443.8 486.3h0M465.1 494.3h0M489.2 490.9h0M572.2 508.7h0M383.7 521.6h0M419.0 525.2h0M445.9 521.9h0M511.2 515.9h0M594.5 514.9h0M551.6 521.6h0M637.8 521.6h0M678.8 521.6h0M533.6 528.8h0M467.3 531.7h0M574.6 535.3h0M640.2 538.2h0M664.7 540.4h0M698.6 541.8h0M527.8 543.3h0M469.4 544.7h0M558.8 549.7h0M595.5 550.5h0M616.4 550.5h0M466.3 551.9h0M519.9 557.0h0M487.5 559.1h0M383.7 555.9h0M400.3 559.1h0M408.5 562.3h0M427.6 553.3h0M434.9 544.7h0M677.0 563.4h0M658.2 571.4h0M594.8 566.3h0M550.1 564.9h0M476.6 574.2h0M548.7 577.8h0M535.7 587.9h0M508.3 589.4h0M453.3 586.5h0M420.4 583.6h0M398.8 570.6h0M602.0 586.5h0M622.2 585.8h0M636.6 585.1h0M665.4 580.7h0M687.0 576.4h0M698.6 573.5h0M383.7 603.5h0M406.6 605.4h0M433.3 606.7h0M413.2 595.1h0M495.4 600.9h0M514.1 600.9h0M557.3 606.2h0M581.1 614.6h0M613.6 611.7h0M643.8 615.3h0M658.2 602.3h0M672.6 595.1h0M687.0 595.1h0M482.4 613.9h0M528.5 608.1h0M384.7 630.2h0M406.6 624.0h0M397.5 618.2h0M430.5 616.8h0M470.9 628.3h0M493.9 622.5h0M514.1 619.6h0M547.3 622.5h0M577.5 616.8h0M603.5 628.3h0M643.8 624.0h0M658.2 616.8h0M698.6 613.9h0M448.0 640.2h0M470.9 641.3h0M499.7 639.8h0M508.3 645.6h0M538.6 636.9h0M574.6 642.7h0M600.6 639.8h0M626.5 639.8h0M655.3 636.9h0M687.0 636.9h0M384.4 634.1h0M401.7 636.9h0M722.6 489.2h0M765.5 486.3h0M872.5 487.5h0M957.9 478.7h0M999.3 502.9h0M830.7 502.5h0M746.4 508.7h0M789.2 510.8h0M769.4 518.8h0M828.5 518.8h0M874.6 516.6h0M916.7 511.6h0M897.0 525.2h0M932.3 523.8h0M724.0 528.8h0M747.8 521.6h0M804.0 527.4h0M723.3 543.3h0M763.7 538.2h0M783.8 540.4h0M806.9 538.9h0M853.0 538.2h0M871.0 545.4h0M935.2 538.9h0M921.5 549.0h0M956.8 545.4h0M981.3 544.7h0M1000.0 536.1h0M892.7 559.1h0M809.8 567.0h0M830.0 572.1h0M849.4 564.9h0M940.9 570.6h0M977.0 571.4h0M1000.0 559.1h0M703.1 582.2h0M706.0 593.7h0M706.7 608.8h0M733.4 575.7h0M745.7 576.4h0M730.5 587.9h0M770.9 595.1h0M789.6 589.4h0M806.9 592.3h0M822.8 585.1h0M832.8 575.0h0M749.3 608.1h0M762.2 605.2h0M834.3 600.9h0M879.0 595.9h0M899.1 605.2h0M917.9 595.1h0M933.7 587.9h0M942.4 577.8h0M964.0 592.3h0M966.9 602.3h0M857.3 611.0h0M817.0 619.6h0M835.7 621.1h0M788.2 619.6h0M768.0 628.3h0M742.1 621.1h0M874.6 622.5h0M891.9 616.8h0M917.9 621.1h0M943.8 622.5h0M958.2 616.8h0M987.0 616.8h0M1000.0 631.2h0M713.2 642.7h0M734.9 636.9h0M785.3 641.3h0M811.2 636.9h0M854.5 642.7h0M886.2 635.5h0M965.4 645.6h0M991.4 635.5h0M1064.4 429.4h0M1109.5 432.6h0M1096.1 477.0h0M1086.0 485.6h0M1131.4 497.1h0M1235.9 479.9h0M1087.5 511.6h0M1108.3 514.4h0M1238.1 511.6h0M1258.2 517.3h0M1282.0 510.1h0M1042.8 527.4h0M1021.9 534.6h0M1148.0 526.0h0M1127.1 533.2h0M1189.1 522.4h0M1170.3 531.7h0M1186.2 534.6h0M1212.1 537.5h0M1233.7 537.5h0M1260.4 536.1h0M1083.8 546.1h0M1118.4 549.7h0M1027.6 549.0h0M1044.9 553.3h0M1050.7 564.9h0M1021.9 572.1h0M1063.7 570.6h0M1070.9 583.6h0M1106.2 572.1h0M1157.3 569.2h0M1128.5 579.3h0M1142.9 580.7h0M1171.8 580.7h0M1194.8 567.8h0M1225.1 565.6h0M1207.8 577.8h0M1281.3 566.3h0M1298.6 585.1h0M1256.8 580.7h0M1265.4 592.3h0M1020.4 592.3h0M1042.1 598.0h0M1059.4 595.1h0M1168.9 595.1h0M1191.9 587.9h0M1217.9 595.1h0M1242.4 599.5h0M1282.7 603.8h0M1114.1 612.4h0M1132.8 606.7h0M1154.5 606.7h0M1174.6 606.7h0M1050.7 613.9h0M1089.6 616.8h0M1070.9 625.4h0M1008.9 615.3h0M1157.3 622.5h0M1119.9 626.8h0M1217.9 609.6h0M1232.3 616.8h0M1200.6 628.3h0M1243.8 631.2h0M1272.6 616.8h0M1298.6 631.2h0M1013.2 642.7h0M1039.2 631.2h0M1063.7 639.8h0M1099.7 644.1h0M1138.6 644.1h0M1203.5 639.8h0M1258.2 641.3h0M1300.0 645.6h0M1341.0 439.2h0M1320.0 477.4h0M1451.6 474.4h0M1555.1 465.7h0M1577.0 482.7h0M1597.1 484.2h0M1386.7 492.1h0M1412.0 496.1h0M1344.9 512.3h0M1365.1 508.7h0M1388.2 505.8h0M1447.5 506.8h0M1515.0 505.8h0M1516.4 518.8h0M1409.8 520.9h0M1321.4 536.3h0M1469.6 528.4h0M1495.2 540.8h0M1375.9 541.8h0M1404.7 543.3h0M1427.1 556.2h0M1447.3 551.9h0M1450.1 560.6h0M1385.3 563.4h0M1363.0 573.5h0M1432.8 573.5h0M1543.8 538.9h0M1558.2 536.1h0M1577.0 540.4h0M1597.1 527.4h0M1598.6 547.6h0M1529.4 547.6h0M1520.8 560.6h0M1513.6 575.0h0M1474.6 569.2h0M1461.7 587.9h0M1479.0 585.1h0M1494.8 587.9h0M1479.0 598.0h0M1499.1 599.5h0M1539.5 580.7h0M1579.8 573.5h0M1564.0 586.5h0M1529.4 598.0h0M1561.1 598.0h0M1519.3 606.7h0M1585.6 605.2h0M1308.9 569.2h0M1324.8 567.8h0M1329.1 582.2h0M1342.1 595.1h0M1352.1 598.0h0M1389.6 598.0h0M1406.9 593.7h0M1428.5 599.5h0M1428.5 613.9h0M1317.6 624.0h0M1342.1 622.5h0M1370.9 626.8h0M1385.3 622.5h0M1405.5 626.8h0M1435.7 631.2h0M1494.8 631.2h0M1512.1 626.8h0M1553.9 625.4h0M1574.1 631.2h0M1598.6 624.0h0M1291.6 641.3h0M1327.6 641.3h0M1350.7 645.6h0M1378.1 639.8h0M1399.7 639.8h0M1457.3 644.1h0M1486.2 641.3h0M1561.1 639.8h0M1594.3 645.6h0M1621.4 469.8h0M1706.9 462.8h0M1855.1 457.8h0M1683.6 484.9h0M1899.3 480.6h0M1730.0 495.7h0M1750.1 501.5h0M1773.6 494.7h0M1831.6 500.5h0M1856.8 508.7h0M1882.0 513.0h0M1647.1 508.0h0M1620.4 532.5h0M1644.9 526.0h0M1662.2 527.4h0M1689.6 526.7h0M1704.7 523.1h0M1751.6 522.4h0M1789.8 520.2h0M1809.2 524.5h0M1835.2 525.2h0M1879.8 527.4h0M1727.1 547.6h0M1706.9 559.1h0M1696.8 567.8h0M1799.9 546.1h0M1588.7 544.7h0M1632.7 559.8h0M1668.7 560.6h0M1662.2 569.9h0M1770.3 559.1h0M1750.1 566.3h0M1732.8 576.4h0M1826.5 556.2h0M1839.5 559.1h0M1793.4 570.6h0M1815.0 573.5h0M1840.9 575.0h0M1898.6 553.3h0M1641.3 586.5h0M1685.3 583.6h0M1665.1 592.3h0M1682.4 590.8h0M1708.3 595.1h0M1737.2 593.7h0M1727.1 583.6h0M1774.6 585.1h0M1771.8 596.6h0M1793.4 587.9h0M1794.8 602.3h0M1877.0 582.9h0M1900.0 587.9h0M1604.6 609.6h0M1624.8 603.8h0M1717.0 613.9h0M1747.3 619.6h0M1768.9 616.8h0M1794.8 608.1h0M1815.0 616.8h0M1849.6 615.3h0M1865.4 609.6h0M1897.1 615.3h0M1669.4 622.5h0M1689.6 625.4h0M1632.0 639.8h0M1656.5 636.9h0M1683.8 639.8h0M1735.7 641.3h0M1757.3 631.2h0M1779.0 648.0h0M1815.0 634.1h0M1839.5 635.5h0M1872.6 636.9h0M1858.2 645.6h0M1939.9 494.3h0M1985.3 497.9h0M2054.0 496.4h0M2090.5 498.6h0M2135.2 501.5h0M2155.3 505.8h0M2138.1 513.0h0M2156.8 526.0h0M2177.0 515.9h0M1948.8 525.7h0M2006.9 524.5h0M2027.1 532.5h0M2008.3 541.1h0M2068.4 518.0h0M2077.5 533.2h0M2089.1 538.9h0M2115.0 548.3h0M1918.3 539.7h0M1924.8 554.1h0M1937.7 546.1h0M1960.8 555.5h0M2057.3 562.0h0M2079.0 553.3h0M2093.4 556.2h0M1970.9 573.5h0M1989.6 573.5h0M2028.5 573.5h0M2050.1 570.6h0M2071.8 570.6h0M2094.8 573.5h0M2115.0 576.4h0M2136.6 573.5h0M2149.6 567.8h0M2172.6 569.2h0M2179.8 573.5h0M1920.4 580.7h0M1946.4 585.1h0M1924.8 598.0h0M1996.8 590.8h0M2014.1 587.9h0M2031.4 592.3h0M2159.7 595.1h0M2172.6 606.7h0M2076.1 603.8h0M2099.1 612.4h0M2117.9 611.0h0M2139.5 608.1h0M1927.6 612.4h0M1989.6 611.0h0M2048.7 612.4h0M2028.5 621.1h0M1970.9 624.0h0M1944.9 631.2h0M2014.1 629.7h0M2064.6 624.0h0M2042.9 628.3h0M2158.2 628.3h0M2172.6 622.5h0M2107.8 621.1h0M1906.0 635.5h0M1891.6 645.6h0M1942.1 642.7h0M1978.1 639.8h0M1999.7 639.8h0M2050.1 639.8h0M2074.6 648.0h0M2100.6 645.6h0M2119.3 645.6h0M2165.4 648.0h0M427.6 658.8h0M456.5 660.9h0M532.8 658.8h0M495.4 673.9h0M391.6 685.4h0M410.4 688.3h0M426.2 681.1h0M391.6 697.0h0M473.3 693.4h0M504.0 697.0h0M538.6 688.3h0M563.1 678.2h0M583.3 675.4h0M599.1 666.0h0M622.2 679.7h0M643.8 675.4h0M648.1 689.8h0M653.9 701.3h0M684.2 682.6h0M692.8 698.4h0M625.1 708.5h0M378.6 714.3h0M390.2 727.2h0M525.6 714.3h0M517.0 722.9h0M561.7 715.0h0M590.5 723.6h0M669.8 729.4h0M697.1 718.6h0M450.0 735.4h0M479.5 730.1h0M475.2 743.1h0M501.9 741.6h0M607.8 743.8h0M586.2 752.5h0M378.6 763.3h0M394.5 776.2h0M413.2 773.3h0M436.3 770.5h0M457.9 758.9h0M436.3 783.4h0M541.5 762.5h0M522.0 769.7h0M519.9 787.8h0M542.9 783.4h0M566.0 783.4h0M589.8 780.6h0M483.4 779.1h0M668.3 760.4h0M630.8 772.6h0M652.5 780.6h0M694.3 790.6h0M695.7 799.3h0M567.1 805.1h0M632.0 806.5h0M440.6 820.6h0M462.2 821.6h0M608.5 836.8h0M609.9 851.2h0M672.2 837.5h0M482.4 850.0h0M568.6 847.6h0M504.0 868.0h0M543.7 865.6h0M674.1 868.0h0M708.9 660.9h0M711.8 673.9h0M753.6 660.9h0M750.7 671.0h0M776.6 662.4h0M762.2 691.2h0M778.1 704.2h0M811.2 672.5h0M837.2 668.1h0M858.8 665.3h0M879.0 655.2h0M906.3 660.9h0M939.5 668.1h0M906.3 689.8h0M943.8 689.8h0M966.9 653.7h0M987.0 669.6h0M997.1 653.7h0M860.2 708.5h0M881.8 707.1h0M890.5 720.0h0M906.3 727.2h0M922.2 714.3h0M820.6 722.9h0M820.6 735.9h0M972.6 724.4h0M994.3 715.7h0M971.2 743.1h0M994.3 741.6h0M737.7 731.6h0M756.5 727.2h0M714.7 746.0h0M732.0 746.0h0M800.4 752.5h0M779.5 770.5h0M795.4 764.7h0M842.2 748.4h0M866.0 760.4h0M883.3 767.6h0M926.5 756.5h0M846.5 778.4h0M824.9 787.8h0M801.9 793.5h0M740.6 787.5h0M907.1 784.2h0M930.1 795.0h0M951.0 783.4h0M974.1 779.8h0M952.5 795.0h0M719.0 812.3h0M869.6 813.0h0M758.9 829.6h0M848.0 831.7h0M864.6 839.6h0M953.9 827.4h0M739.2 854.1h0M760.8 856.9h0M781.0 864.1h0M798.3 850.4h0M824.2 852.6h0M971.9 855.5h0M928.0 868.0h0M717.6 871.3h0M1046.4 657.3h0M1007.5 672.5h0M1032.0 678.2h0M1069.4 648.7h0M1070.9 676.8h0M1092.5 695.5h0M1082.4 708.5h0M1176.1 686.2h0M1199.1 669.6h0M1222.2 666.7h0M1206.3 684.0h0M1204.9 699.9h0M1210.7 715.7h0M1248.1 665.3h0M1266.9 686.9h0M1289.9 665.3h0M1289.9 692.6h0M1117.0 711.4h0M1138.6 706.3h0M1245.3 713.5h0M1030.5 720.0h0M1104.0 728.7h0M1055.7 739.5h0M1078.1 744.5h0M1093.9 750.3h0M1101.1 740.2h0M1183.3 745.2h0M1161.7 756.1h0M1124.2 759.7h0M1228.0 741.6h0M1226.5 750.3h0M1269.8 730.1h0M1287.0 735.9h0M1269.8 750.3h0M1033.4 763.3h0M1055.0 766.1h0M1059.4 785.6h0M1037.0 797.8h0M1102.6 780.6h0M1115.6 773.3h0M1140.1 771.9h0M1140.1 779.1h0M1167.4 767.6h0M1181.8 764.7h0M1187.6 792.1h0M1274.1 781.3h0M1252.5 794.2h0M1233.0 807.9h0M1124.9 806.5h0M1146.5 803.6h0M1099.0 844.7h0M1122.0 842.5h0M1016.1 855.5h0M1057.2 855.5h0M1185.4 865.6h0M1229.4 868.0h0M1251.0 865.6h0M1081.0 872.8h0M1353.6 662.4h0M1327.6 675.4h0M1391.8 667.4h0M1414.1 666.7h0M1421.3 675.4h0M1438.6 655.2h0M1461.7 662.4h0M1483.3 672.5h0M1486.2 653.7h0M1503.5 652.3h0M1546.0 663.1h0M1584.2 655.9h0M1582.7 685.4h0M1598.6 684.0h0M1347.8 699.9h0M1339.2 712.1h0M1372.3 697.0h0M1435.7 689.8h0M1453.0 686.9h0M1467.4 701.3h0M1455.9 707.1h0M1502.0 697.7h0M1543.8 707.1h0M1523.6 719.3h0M1588.5 715.0h0M1393.9 723.6h0M1415.6 720.0h0M1569.8 733.7h0M1310.4 737.3h0M1361.5 735.9h0M1334.9 748.8h0M1356.5 754.6h0M1370.9 751.7h0M1396.8 748.8h0M1401.1 766.1h0M1418.4 753.2h0M1441.5 752.5h0M1442.9 770.5h0M1464.6 758.9h0M1479.0 751.7h0M1486.2 773.3h0M1506.3 754.6h0M1500.6 761.8h0M1528.0 766.1h0M1548.1 748.8h0M1566.9 754.6h0M1316.1 775.1h0M1359.4 792.5h0M1551.0 788.5h0M1574.1 786.3h0M1592.8 793.5h0M1402.9 813.0h0M1312.5 825.2h0M1314.0 838.2h0M1529.4 832.4h0M1379.5 859.1h0M1421.3 864.1h0M1549.6 862.7h0M1571.2 854.1h0M1610.4 653.7h0M1607.5 671.0h0M1633.4 652.3h0M1712.7 667.4h0M1721.3 679.7h0M1740.1 662.4h0M1760.2 652.3h0M1780.4 656.6h0M1802.7 676.8h0M1808.5 693.4h0M1836.6 668.1h0M1851.0 669.6h0M1869.8 675.4h0M1884.2 689.8h0M1898.6 682.6h0M1649.3 684.0h0M1672.3 684.7h0M1695.4 692.6h0M1717.0 695.5h0M1617.6 697.0h0M1630.5 705.6h0M1755.9 696.2h0M1779.0 707.1h0M1800.6 715.7h0M1731.4 711.4h0M1701.1 722.9h0M1721.3 725.8h0M1714.1 715.7h0M1824.4 723.6h0M1783.3 733.0h0M1786.2 748.8h0M1614.0 738.0h0M1650.7 737.3h0M1675.9 746.7h0M1698.3 758.9h0M1656.5 757.5h0M1659.4 764.7h0M1693.9 766.1h0M1740.8 750.3h0M1850.3 748.1h0M1829.4 760.4h0M1804.9 764.0h0M1891.4 735.9h0M1892.8 748.8h0M1744.4 787.8h0M1767.4 787.8h0M1788.3 793.5h0M1897.1 784.9h0M1637.7 811.5h0M1660.1 805.1h0M1826.5 810.8h0M1873.4 806.5h0M1847.4 855.5h0M1742.9 864.1h0M1764.6 861.3h0M1616.1 868.5h0M1678.1 872.8h0M1908.9 652.3h0M1929.1 671.0h0M1951.4 689.8h0M1973.8 679.7h0M1963.7 660.9h0M1996.8 648.0h0M2035.7 663.8h0M2017.0 681.1h0M2038.6 692.6h0M2058.8 695.5h0M2071.8 675.4h0M2086.2 688.3h0M2096.3 663.8h0M2123.6 665.3h0M2146.7 673.9h0M2129.4 688.3h0M2165.4 660.9h0M1907.5 694.1h0M1916.1 707.1h0M1975.2 702.0h0M1957.9 715.0h0M2104.9 713.5h0M2123.6 712.1h0M2143.8 702.7h0M2164.0 706.3h0M2057.8 731.3h0M2103.5 739.5h0M2081.8 748.8h0M2129.4 741.6h0M2152.5 741.6h0M2169.8 747.4h0M2128.0 763.3h0M2169.8 756.1h0M1911.8 735.9h0M1932.0 746.0h0M1992.5 747.4h0M1997.5 769.0h0M2023.0 754.6h0M1952.1 762.5h0M1956.5 777.7h0M1915.4 768.3h0M2039.3 779.1h0M2061.7 790.6h0M2042.9 805.1h0M1978.8 792.1h0M2001.9 806.5h0M1980.2 818.0h0M2019.9 823.8h0M2021.3 829.6h0M2171.9 790.6h0M2082.6 839.6h0M2106.3 834.6h0M1933.4 848.3h0M1953.6 864.1h0M1934.9 865.6h0M2107.8 872.8h0M460.5 887.4h0M416.4 910.1h0M889.1 885.6h0M995.7 882.4h0M1017.6 879.5h0M1292.8 885.3h0M1209.5 908.6h0M1164.6 965.2h0M1337.4 882.4h0M1381.0 895.4h0M1465.7 884.5h0M1509.5 903.0h0M1487.9 918.8h0M1444.7 925.9h0M1594.3 929.2h0M1636.0 884.5h0M1699.4 891.7h0M1723.0 910.5h0M1806.1 880.7h0M1871.5 880.2h0M1851.7 888.4h0M1828.0 933.5h0M2063.1 914.4h0M2150.3 916.5h0M2085.0 966.4h0M550.9 653.1h0M637.3 651.1h0"/>
</g>
<g filter="url(#t)">
<text transform="translate(373.5 1476.6) scale(1 1.035)" font-size="70" text-anchor="middle">0</text>
<text transform="translate(735.3 1476.6) scale(1 1.035)" font-size="70" text-anchor="middle">200</text>
<text transform="translate(1097.1 1476.6) scale(1 1.035)" font-size="70" text-anchor="middle">400</text>
<text transform="translate(1458.9 1476.6) scale(1 1.035)" font-size="70" text-anchor="middle">600</text>
<text transform="translate(1820.7 1476.6) scale(1 1.035)" font-size="70" text-anchor="middle">800</text>
<text transform="translate(2182.5 1476.6) scale(1 1.035)" font-size="70" text-anchor="middle">1000</text>
<text transform="translate(346.5 1347.0) scale(1 1.035)" font-size="70" text-anchor="end">4.0</text>
<text transform="translate(346.5 1077.8) scale(1 1.035)" font-size="70" text-anchor="end">4.4</text>
<text transform="translate(346.5 808.5) scale(1 1.035)" font-size="70" text-anchor="end">4.8</text>
<text transform="translate(346.5 539.3) scale(1 1.035)" font-size="70" text-anchor="end">5.2</text>
<text transform="translate(346.5 270.0) scale(1 1.035)" font-size="70" text-anchor="end">5.6</text>
<text x="1325" y="1569" font-size="82" text-anchor="middle">Injection cycle number</text>
<text transform="translate(92 808.9) rotate(-90)" font-size="82" text-anchor="middle">Fuel injected</text>
<text transform="translate(194.8 797.4) rotate(-90)" font-size="82" text-anchor="middle" textLength="335.6">mass/mg</text>
</g>
<rect x="511.4" y="1128.8" width="1536.3" height="204.1" fill="#fff" stroke="#000" stroke-width="3.4"/>
<path fill="#0000ff" d="M679.7 1169.9l15.7 26.0h-31.4z"/>
<circle cx="679.6" cy="1286.3" r="13" fill="#ff0000"/>
<g filter="url(#t)">
<text x="793" y="1215.5" font-size="82" textLength="1080">RD freewheeling COV=5.94%</text>
<text x="793" y="1314.6" font-size="82" textLength="1215.4">Varible freewheeling COV=3.08%</text>
</g>
</svg></body></html>
